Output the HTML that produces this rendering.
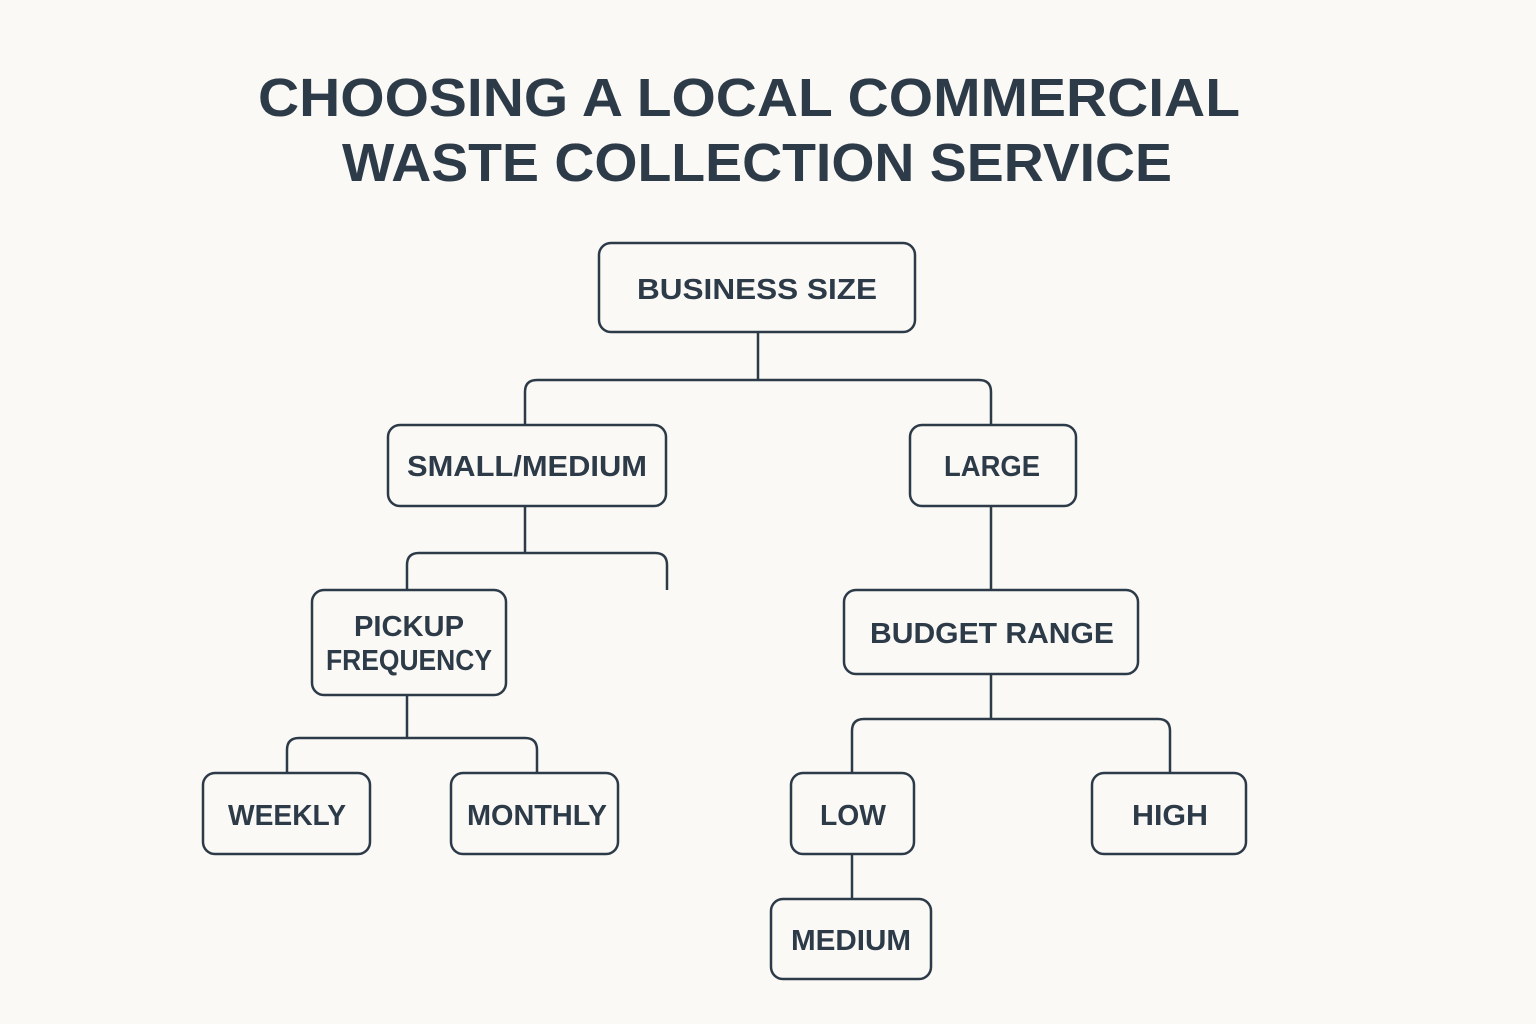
<!DOCTYPE html>
<html><head><meta charset="utf-8"><style>
html,body{margin:0;padding:0;background:#faf9f6;}
svg{display:block;}
text{font-family:"Liberation Sans",sans-serif;font-weight:bold;fill:#2d3a48;}
</style></head><body>
<svg width="1536" height="1024" viewBox="0 0 1536 1024">
<rect width="1536" height="1024" fill="#faf9f6"/>
<text x="749" y="116" font-size="54" text-anchor="middle" textLength="982" lengthAdjust="spacingAndGlyphs">CHOOSING A LOCAL COMMERCIAL</text>
<text x="757" y="181" font-size="54" text-anchor="middle" textLength="830" lengthAdjust="spacingAndGlyphs">WASTE COLLECTION SERVICE</text>
<g fill="none" stroke="#2d3a48" stroke-width="2.5">
<path d="M758 332V380M525 425V392Q525 380 537 380H979Q991 380 991 392V425"/>
<path d="M525 506V553M407 590V565Q407 553 419 553H655Q667 553 667 565V590"/>
<path d="M991 506V590"/>
<path d="M991 674V719M852 773V731Q852 719 864 719H1158Q1170 719 1170 731V773"/>
<path d="M407 695V738M287 773V750Q287 738 299 738H525Q537 738 537 750V773"/>
<path d="M852 854V899"/>
<rect x="599" y="243" width="316" height="89" rx="12" fill="#faf9f6"/>
<rect x="388" y="425" width="278" height="81" rx="12" fill="#faf9f6"/>
<rect x="910" y="425" width="166" height="81" rx="12" fill="#faf9f6"/>
<rect x="312" y="590" width="194" height="105" rx="12" fill="#faf9f6"/>
<rect x="844" y="590" width="294" height="84" rx="12" fill="#faf9f6"/>
<rect x="203" y="773" width="167" height="81" rx="12" fill="#faf9f6"/>
<rect x="451" y="773" width="167" height="81" rx="12" fill="#faf9f6"/>
<rect x="791" y="773" width="123" height="81" rx="12" fill="#faf9f6"/>
<rect x="1092" y="773" width="154" height="81" rx="12" fill="#faf9f6"/>
<rect x="771" y="899" width="160" height="80" rx="12" fill="#faf9f6"/>
</g>
<g font-size="29" text-anchor="middle">
<text x="757" y="299" textLength="240" lengthAdjust="spacingAndGlyphs">BUSINESS SIZE</text>
<text x="527" y="476" textLength="240" lengthAdjust="spacingAndGlyphs">SMALL/MEDIUM</text>
<text x="992" y="476" textLength="96" lengthAdjust="spacingAndGlyphs">LARGE</text>
<text x="409" y="636" textLength="110" lengthAdjust="spacingAndGlyphs">PICKUP</text>
<text x="409" y="670" textLength="166" lengthAdjust="spacingAndGlyphs">FREQUENCY</text>
<text x="992" y="643" textLength="244" lengthAdjust="spacingAndGlyphs">BUDGET RANGE</text>
<text x="287" y="825" textLength="118" lengthAdjust="spacingAndGlyphs">WEEKLY</text>
<text x="537" y="825" textLength="140" lengthAdjust="spacingAndGlyphs">MONTHLY</text>
<text x="853" y="825" textLength="66" lengthAdjust="spacingAndGlyphs">LOW</text>
<text x="1170" y="825" textLength="76" lengthAdjust="spacingAndGlyphs">HIGH</text>
<text x="851" y="950" textLength="120" lengthAdjust="spacingAndGlyphs">MEDIUM</text>
</g>
</svg>
</body></html>
